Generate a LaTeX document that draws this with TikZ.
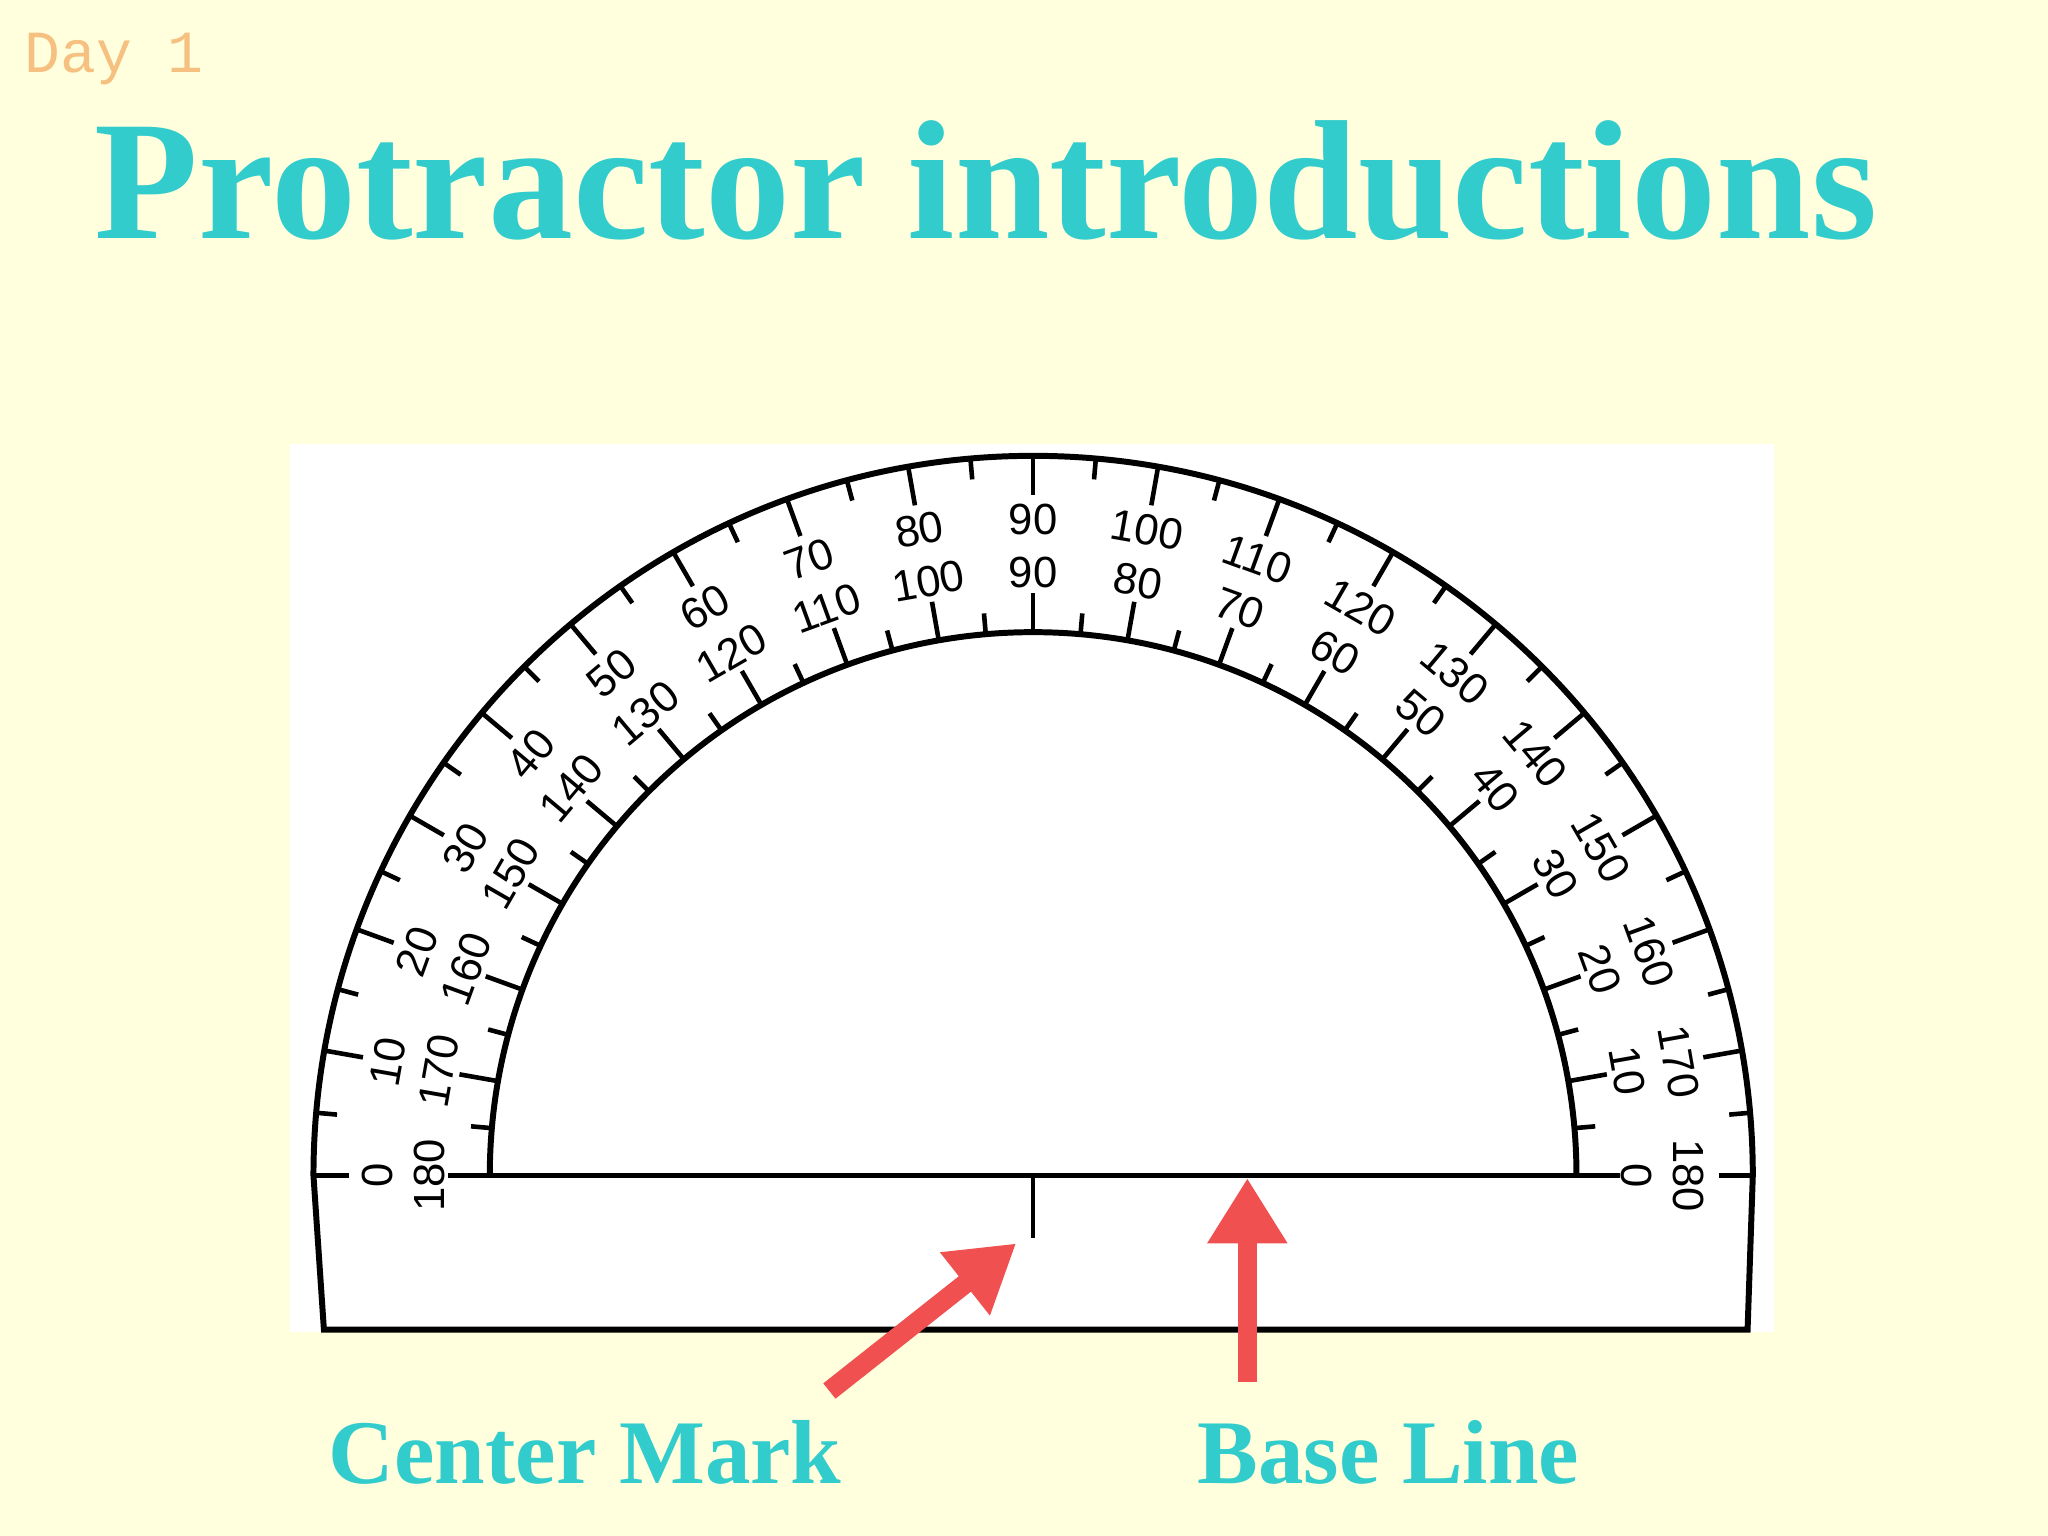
\documentclass[tikz,border=0pt]{standalone}
\usepackage{fontspec}
\setmainfont{Liberation Serif}
\newfontfamily\numfont{Liberation Sans}
\newfontfamily\dayfont{Liberation Mono}
\usetikzlibrary{arrows.meta}
\definecolor{bg}{HTML}{FFFFDD}
\definecolor{teal}{HTML}{33CCCC}
\definecolor{dayc}{HTML}{F5C080}
\definecolor{arr}{HTML}{F05050}
\tikzset{num/.style={font=\numfont\fontsize{9.5}{10}\selectfont,inner sep=0pt},
 redarrow/.style={draw=arr,line width=0.15cm,-{Triangle[width=0.58cm,length=0.5cm]}},
 lbl/.style={font=\fontsize{19.8}{22}\selectfont\bfseries,text=teal}}
\begin{document}
\begin{tikzpicture}[x=0.01cm,y=-0.01cm]
\fill[bg] (0,0) rectangle (1568,1176);
\useasboundingbox (0,0) rectangle (1568,1176);
\node[font=\dayfont\fontsize{13}{14}\selectfont,text=dayc,anchor=west,inner sep=0pt] (day) at (18,45) {Day 1};
\node[font=\fontsize{37}{40}\selectfont\bfseries,text=teal] (title) at (755,138) {Protractor introductions};
\fill[white] (222,340) rectangle (1358,1020);
\coordinate (c) at (791,900);
\draw[line width=1.3pt] (240,900) arc[start angle=180,end angle=360,radius=551] -- (1338,1018) -- (248,1018) -- cycle;
\draw[line width=1.3pt] (375,900) arc[start angle=180,end angle=360,radius=416];
\draw[line width=1pt] (240,900) -- (267,900) (343,900) -- (1240,900) (1316,900) -- (1342,900);
\draw[line width=1pt] (c) -- (791,948);
\foreach \a in {5,10,...,175}{
  \pgfmathsetmacro{\L}{mod(\a,10)==0 ? 30 : 16}
  \pgfmathsetmacro{\Lo}{551-\L}
  \pgfmathsetmacro{\Li}{416+\L}
  \draw[line width=1pt] ([shift={(-\a:551)}]c) -- ([shift={(-\a:\Lo)}]c);
  \draw[line width=1pt] ([shift={(-\a:416)}]c) -- ([shift={(-\a:\Li)}]c);
}
\foreach \a in {0,10,...,180}{
  \pgfmathtruncatemacro{\o}{180-\a}
  \node[num,rotate=\a-90] at ([shift={(-\a:502)}]c) {\o};
  \node[num,rotate=\a-90] at ([shift={(-\a:462)}]c) {\a};
}
\coordinate (a1s) at (635,1065); \coordinate (a1e) at (778,952);
\coordinate (a2s) at (955,1058); \coordinate (a2e) at (955,902);
\draw[redarrow] (a1s) -- (a1e);
\draw[redarrow] (a2s) -- (a2e);
\node[lbl] (cm) at (448,1112) {Center Mark};
\node[lbl] (bl) at (1063,1112) {Base Line};
\end{tikzpicture}
\end{document}
